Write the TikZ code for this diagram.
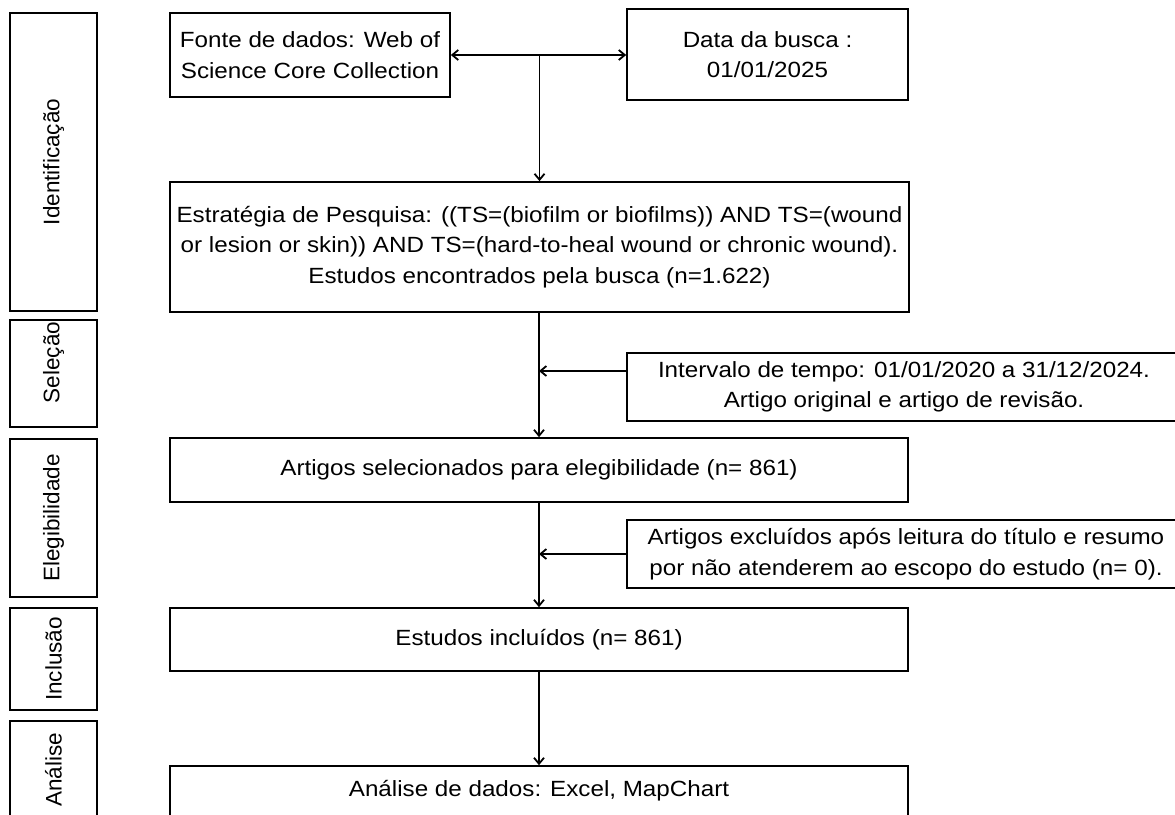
\documentclass[tikz,border=0pt]{standalone}
\usepackage{fontspec}
\setmainfont{Liberation Sans}
\newfontfamily\mainf[FakeStretch=1.1]{Liberation Sans}
\usetikzlibrary{arrows.meta}
\begin{document}
\begin{tikzpicture}[x=1pt,y=-1pt,
  box/.style={draw, line width=1.7pt, font=\mainf\fontsize{22}{30.5}\selectfont, align=center, inner sep=0pt},
  phase/.style={draw, line width=1.7pt, rotate=90, font=\fontsize{22.5}{26}\selectfont, inner sep=0pt, minimum height=87pt},
  conn/.style={line width=1.8pt, -{Straight Barb[length=6pt,width=10pt]}},
  dconn/.style={line width=1.8pt, {Straight Barb[length=6pt,width=10pt]}-{Straight Barb[length=6pt,width=10pt]}}]
\useasboundingbox (0,0) rectangle (1175,814);
% phase labels
\node[phase, minimum width=298pt] (pident) at (53.5,162) {Identificação};
\node[phase, minimum width=107pt] (psel) at (53.5,373.5) {\hspace*{22pt}Seleção};
\node[phase, minimum width=158pt] (peleg) at (53.5,518) {Elegibilidade};
\node[phase, minimum width=102pt] (pincl) at (53.5,659) {Inclusão};
\node[phase, minimum width=98pt] (panal) at (53.5,770) {Análise};
% main boxes
\node[box, minimum width=280pt, minimum height=84pt] (fonte) at (310,55) {Fonte de dados: Web of\\Science Core Collection};
\node[box, minimum width=281pt, minimum height=91pt] (data) at (767.5,54.5) {Data da busca :\\01/01/2025};
\node[box, minimum width=739pt, minimum height=130pt] (estr) at (539.5,247) {Estratégia de Pesquisa: ((TS=(biofilm or biofilms)) AND TS=(wound\\or lesion or skin)) AND TS=(hard-to-heal wound or chronic wound).\\Estudos encontrados pela busca (n=1.622)};
\node[box, minimum width=554pt, minimum height=68pt] (interv) at (904,387) {Intervalo de tempo: 01/01/2020 a 31/12/2024.\\Artigo original e artigo de revisão.};
\node[box, minimum width=738pt, minimum height=64pt] (sel) at (539,470) {Artigos selecionados para elegibilidade (n= 861)};
\node[box, minimum width=558pt, minimum height=68pt] (excl) at (906,554) {Artigos excluídos após leitura do título e resumo\\por não atenderem ao escopo do estudo (n= 0).};
\node[box, minimum width=738pt, minimum height=63pt] (incl) at (539,639.5) {Estudos incluídos (n= 861)};
\node[box, minimum width=738pt, minimum height=64pt, text height=17pt, text depth=20pt] (anal) at (539,798) {Análise de dados: Excel, MapChart};
% connectors
\draw[dconn] (fonte.east) -- (fonte.east -| data.west);
\draw[conn] (fonte.east -| estr.north) -- (estr.north);
\draw[conn] (estr.south -| sel.north) -- (sel.north);
\draw[conn] ([yshift=16pt]interv.west) -- ([yshift=16pt]interv.west -| sel.north);
\draw[conn] (sel.south) -- (incl.north);
\draw[conn] (excl.west) -- (excl.west -| sel.north);
\draw[conn] (incl.south) -- (anal.north);
\end{tikzpicture}
\end{document}
